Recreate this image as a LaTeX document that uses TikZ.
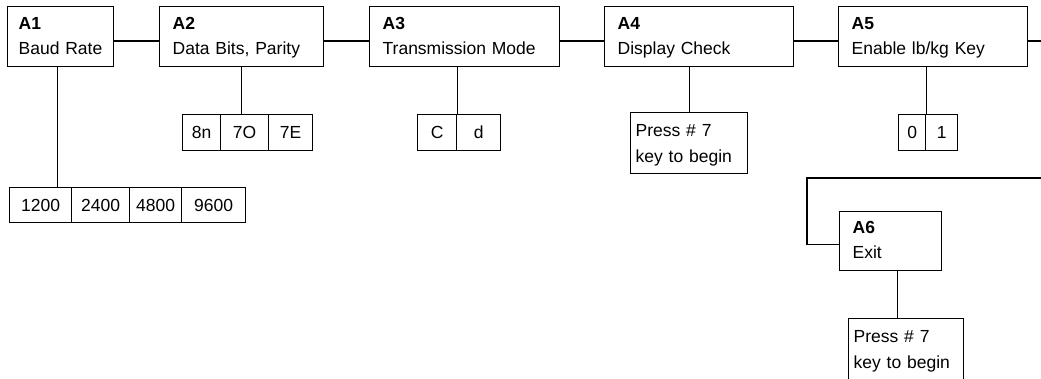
\documentclass[tikz,border=0pt]{standalone}
\usepackage{fontspec}
\setmainfont{Liberation Sans}
\usetikzlibrary{calc}

\tikzset{
  wire/.style={line width=1.3pt, line cap=rect},
  stage/.style={draw, line width=1.3pt, anchor=north west, align=left,
    inner xsep=13pt, inner ysep=0pt, text height=23pt, text depth=37pt,
    font=\fontsize{17.5}{25}\selectfont},
  notebox/.style={draw, line width=1.3pt, anchor=north west, align=left,
    inner xsep=5pt, inner ysep=0pt, text height=24pt, text depth=37pt,
    font=\fontsize{17.5}{26}\selectfont},
  cell/.style={draw, line width=1.3pt, anchor=north west, inner sep=0pt,
    text height=12.5pt, text depth=0pt, font=\fontsize{17.5}{21}\selectfont}
}

\begin{document}
\begin{tikzpicture}[x=1pt, y=-1pt]
  \useasboundingbox (0,0) rectangle (1041,378);
  \clip (0,0) rectangle (1041,378);

  % menu stages
  \node[stage, inner xsep=11pt, text width=84pt] (a1) at (7,6) {\textbf{A1}\\Baud Rate};
  \node[stage, text width=138pt] (a2) at (159,6) {\textbf{A2}\\Data Bits, Parity};
  \node[stage, text width=164pt] (a3) at (369,6) {\textbf{A3}\\Transmission Mode};
  \node[stage, text width=163pt] (a4) at (604,6) {\textbf{A4}\\Display Check};
  \node[stage, text width=163pt] (a5) at (838,6) {\textbf{A5}\\Enable lb/kg Key};
  \node[stage, text width=76pt, text height=22pt] (a6) at (839,211) {\textbf{A6}\\Exit};

  % baud rate choices
  \node[cell, minimum width=62pt, minimum height=35pt] (b1) at (9,187)   {1200};
  \node[cell, minimum width=58pt, minimum height=35pt] (b2) at (71,187)  {2400};
  \node[cell, minimum width=52pt, minimum height=35pt] (b3) at (129,187) {4800};
  \node[cell, minimum width=64pt, minimum height=35pt] (b4) at (181,187) {9600};

  % data bits / parity choices
  \node[cell, minimum width=38pt, minimum height=36pt] (p1) at (182,114) {8n};
  \node[cell, minimum width=48pt, minimum height=36pt] (p2) at (220,114) {7O};
  \node[cell, minimum width=44pt, minimum height=36pt] (p3) at (268,114) {7E};

  % transmission mode choices
  \node[cell, minimum width=39pt, minimum height=36pt] (m1) at (417,114) {C};
  \node[cell, minimum width=44pt, minimum height=36pt] (m2) at (456,114) {d};

  % lb/kg key choices
  \node[cell, minimum width=27pt, minimum height=36pt] (z0) at (898,114) {0};
  \node[cell, minimum width=32pt, minimum height=36pt] (z1) at (925,114) {1};

  % instructions
  \node[notebox, text width=107pt] (k1) at (630,112) {Press \# 7\\key to begin};
  \node[notebox, text width=105pt] (k2) at (848,318) {Press \# 7\\key to begin};

  % continuation points at the right edge
  \coordinate (out1) at (1041,41);
  \coordinate (out2) at (1041,178);
  \coordinate (bend) at (807,178);

  % chain of stages
  \draw[wire] ($(a1.north east)+(0,35)$) coordinate (j1) -- (j1 -| a2.west);
  \draw[wire] ($(a2.north east)+(0,35)$) coordinate (j2) -- (j2 -| a3.west);
  \draw[wire] ($(a3.north east)+(0,35)$) coordinate (j3) -- (j3 -| a4.west);
  \draw[wire] ($(a4.north east)+(0,35)$) coordinate (j4) -- (j4 -| a5.west);
  \draw[wire] ($(a5.north east)+(0,35)$) -- (out1);
  \draw[wire] ($(a6.west)+(0,3)$) coordinate (j6)
    -- (j6 -| bend) -- (bend) -- (out2);

  % stage to choices
  \draw[wire] ($(a1.south)+(-3,0)$) coordinate (d1) -- (d1 |- b1.north);
  \draw[wire] (a2.south) -- (a2.south |- p2.north);
  \draw[wire] (m1.north east) -- (m1.north east |- a3.south);
  \draw[wire] (k1.north) -- (k1.north |- a4.south);
  \draw[wire] (z0.north east) -- (z0.north east |- a5.south);
  \draw[wire] ($(a6.south)+(7,0)$) coordinate (d6) -- (d6 |- k2.north);
\end{tikzpicture}
\end{document}
